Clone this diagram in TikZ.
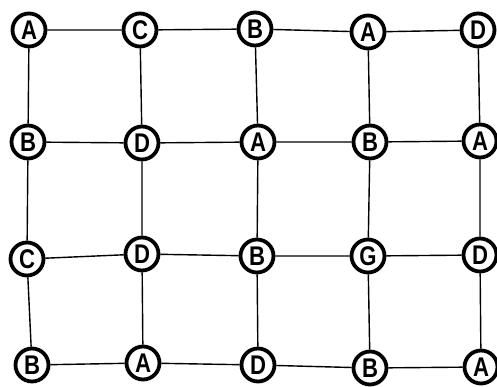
\documentclass[tikz,border=0pt]{standalone}
\usepackage{fontspec}
\setmainfont{Liberation Sans}
\newcommand{\vlbl}[1]{\scalebox{0.82}[1]{#1}}
\begin{document}
\begin{tikzpicture}[x=1pt,y=-1pt,
  vtx/.style={circle,draw,line width=3.8pt,minimum size=33pt,inner sep=0pt,fill=white,font=\bfseries\fontsize{27}{27}\selectfont},
  edge/.style={line width=1.4pt}]
\useasboundingbox (0,0) rectangle (497,387);
\node[vtx] (a1) at (29,30) {\vlbl{A}};
\node[vtx] (a2) at (140,30) {\vlbl{C}};
\node[vtx] (a3) at (255,29) {\vlbl{B}};
\node[vtx] (a4) at (368,32) {\vlbl{A}};
\node[vtx] (a5) at (478,30) {\vlbl{D}};
\node[vtx] (b1) at (28,142) {\vlbl{B}};
\node[vtx] (b2) at (142,143) {\vlbl{D}};
\node[vtx] (b3) at (258,142) {\vlbl{A}};
\node[vtx] (b4) at (370,142) {\vlbl{B}};
\node[vtx] (b5) at (480,141) {\vlbl{A}};
\node[vtx] (c1) at (27,259) {\vlbl{C}};
\node[vtx] (c2) at (142,254) {\vlbl{D}};
\node[vtx] (c3) at (257,256) {\vlbl{B}};
\node[vtx] (c4) at (368,256) {\vlbl{G}};
\node[vtx] (c5) at (480,255) {\vlbl{D}};
\node[vtx] (d1) at (32,365) {\vlbl{B}};
\node[vtx] (d2) at (143,363) {\vlbl{A}};
\node[vtx] (d3) at (258,365) {\vlbl{D}};
\node[vtx] (d4) at (370,368) {\vlbl{B}};
\node[vtx] (d5) at (481,367) {\vlbl{A}};
\foreach \r in {a,b,c,d}{
  \draw[edge] (\r1) -- (\r2) -- (\r3) -- (\r4) -- (\r5);
}
\foreach \c in {1,...,5}{
  \draw[edge] (a\c) -- (b\c) -- (c\c) -- (d\c);
}
\end{tikzpicture}
\end{document}
